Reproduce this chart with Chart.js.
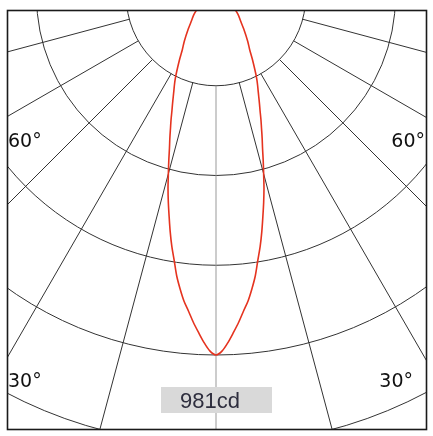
<!DOCTYPE html>
<html>
<head>
<meta charset="utf-8">
<script src="https://cdn.jsdelivr.net/npm/chart.js@4"></script>
<style>
  body { margin: 0; background: #fff; }
  canvas { display: block; }
</style>
</head>
<body>
<canvas id="polar" width="433" height="436"></canvas>
<script>
// Светораспределение: угол от вертикали (градусы) и сила света (кд)
const angles = [0, 1, 2, 3, 4, 5, 6, 7, 8, 9, 10, 11, 12, 13, 14, 15, 16, 17, 18, 19, 20,
                21, 22, 23, 24, 25, 26, 27, 28, 30, 32, 35, 40, 45, 50, 55, 60, 70, 80, 90];
const intensity = [981, 970, 947, 920, 893, 864, 838, 806, 772, 731, 695, 656, 616, 579, 542, 503, 468, 435, 408, 382, 359,
                   336, 317, 299, 283, 269, 255, 240, 225, 198, 174, 151, 118, 94, 79, 63, 50, 28, 10, 0];

// Сетка: кольца и лучи
const maxCd = Math.max(...intensity);
const ringStep = maxCd / 4;
const rings = [1, 2, 3, 4, 5].map(k => k * ringStep);
const rays = [-75, -60, -45, -30, -15, 15, 30, 45, 60, 75];
const sideLabels = ['60°', '30°'];

// Точки кривой (левая и правая половины)
const curve = [];
for (let i = angles.length - 1; i > 0; i--) {
    const a = -angles[i] * Math.PI / 180;
    curve.push({ x: intensity[i] * Math.sin(a), y: intensity[i] * Math.cos(a) });
}
for (let i = 0; i < angles.length; i++) {
    const a = angles[i] * Math.PI / 180;
    curve.push({ x: intensity[i] * Math.sin(a), y: intensity[i] * Math.cos(a) });
}

const cdPerPx = maxCd / 359;

const gridPlugin = {
    id: 'grid',
    beforeDatasetsDraw(chart) {
        const { ctx, chartArea: area, scales: { x, y } } = chart;
        const ox = x.getPixelForValue(0);
        const oy = y.getPixelForValue(0);
        const px = v => x.getPixelForValue(v) - ox;
        ctx.save();
        ctx.beginPath();
        ctx.rect(area.left, area.top, area.right - area.left, area.bottom - area.top);
        ctx.clip();
        ctx.strokeStyle = '#333';
        ctx.lineWidth = 1;
        rings.forEach(r => {
            ctx.beginPath();
            ctx.arc(ox, oy, px(r), 0, Math.PI);
            ctx.stroke();
        });
        const r0 = px(rings[0]);
        const r1 = px(3000);
        rays.forEach(d => {
            const a = d * Math.PI / 180;
            ctx.beginPath();
            ctx.moveTo(ox + r0 * Math.sin(a), oy + r0 * Math.cos(a));
            ctx.lineTo(ox + r1 * Math.sin(a), oy + r1 * Math.cos(a));
            ctx.stroke();
        });
        ctx.strokeStyle = '#999';
        ctx.beginPath();
        ctx.moveTo(ox, oy + r0);
        ctx.lineTo(ox, area.bottom);
        ctx.stroke();
        ctx.restore();
    },
    afterDatasetsDraw(chart) {
        const { ctx, chartArea: area } = chart;
        ctx.save();
        // подписи углов
        ctx.fillStyle = '#111';
        ctx.font = '19px "DejaVu Sans", sans-serif';
        ctx.textBaseline = 'alphabetic';
        ctx.textAlign = 'left';
        ctx.fillText(sideLabels[0], area.left + 1, 147);
        ctx.fillText(sideLabels[1], area.left + 1, 387);
        ctx.textAlign = 'right';
        ctx.fillText(sideLabels[0], area.right - 1, 147);
        ctx.fillText(sideLabels[1], area.right - 13, 387);
        // максимум
        const cx = chart.scales.x.getPixelForValue(0);
        ctx.fillStyle = '#d9d9d9';
        ctx.fillRect(cx - 55, 387, 111, 26);
        ctx.fillStyle = '#2e2e3e';
        ctx.font = '22px "Liberation Sans", Arial, sans-serif';
        ctx.textAlign = 'center';
        ctx.fillText(`${maxCd}cd`, cx - 6, 408);
        // рамка
        ctx.strokeStyle = '#1a1a1a';
        ctx.lineWidth = 1.6;
        ctx.strokeRect(area.left + 0.5, area.top + 0.5, area.right - area.left, area.bottom - area.top);
        ctx.restore();
    }
};

new Chart(document.getElementById('polar'), {
    type: 'scatter',
    data: {
        datasets: [{
            data: curve,
            showLine: true,
            borderColor: '#e5331f',
            borderWidth: 1.6,
            pointRadius: 0,
            tension: 0.3,
            fill: false
        }]
    },
    options: {
        responsive: false,
        animation: false,
        devicePixelRatio: 1,
        layout: { padding: { left: 7, right: 7, top: 10, bottom: 7 } },
        scales: {
            x: { type: 'linear', display: false, min: -209 * cdPerPx, max: 210 * cdPerPx },
            y: { type: 'linear', display: false, reverse: true, min: 14 * cdPerPx, max: 433 * cdPerPx }
        },
        plugins: {
            legend: { display: false },
            tooltip: { enabled: false }
        }
    },
    plugins: [gridPlugin]
});
</script>
</body>
</html>
